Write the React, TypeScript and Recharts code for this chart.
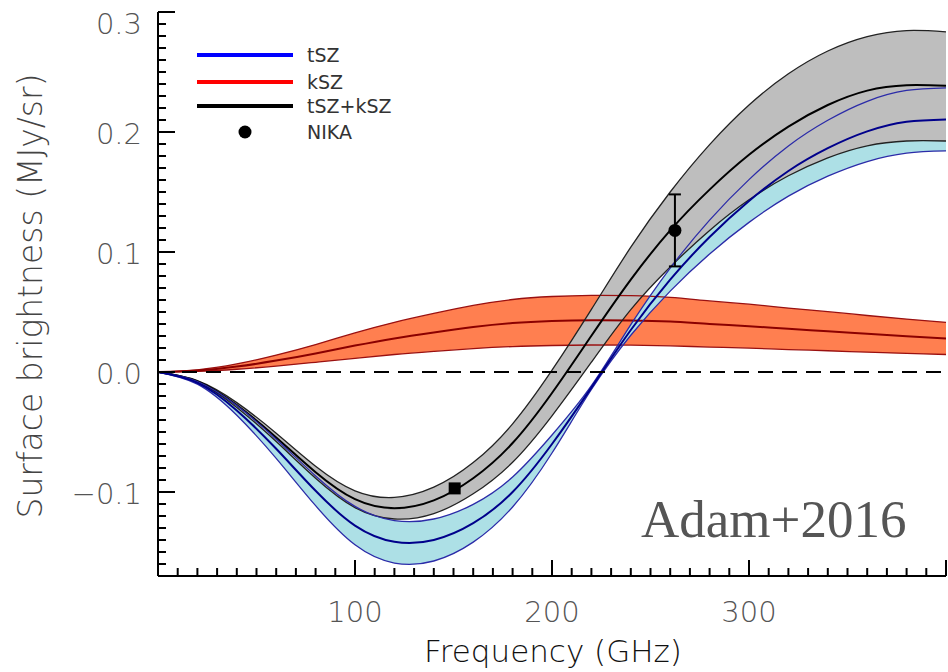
import React from "react";
import {
  ComposedChart, Area, Line, Scatter, XAxis, YAxis, ReferenceLine, ErrorBar,
} from "recharts";

// frequency grid (GHz) and curves
const freq = [0, 20, 40, 60, 80, 100, 120, 140, 160, 180, 200, 220, 240, 260, 280, 300, 320, 340, 360, 380, 400];

const tszMid = [0, -0.009, -0.032, -0.064, -0.099, -0.128, -0.1415, -0.14, -0.126, -0.1, -0.06, -0.013, 0.035, 0.077, 0.1125, 0.1425, 0.1675, 0.1865, 0.2005, 0.2085, 0.2105];
const tszLo = [0, -0.0101, -0.036, -0.072, -0.1114, -0.144, -0.1592, -0.1575, -0.1418, -0.1125, -0.0675, -0.0146, 0.0306, 0.0674, 0.0984, 0.1247, 0.1466, 0.1632, 0.1754, 0.1824, 0.1842];
const tszHi = [0, -0.0079, -0.028, -0.056, -0.0866, -0.112, -0.1238, -0.1225, -0.1103, -0.0875, -0.0525, -0.0114, 0.0394, 0.0866, 0.1266, 0.1603, 0.1884, 0.2098, 0.2256, 0.2346, 0.2368];

const kszMid = [0, 0.0012, 0.0045, 0.0095, 0.0155, 0.022, 0.028, 0.033, 0.0375, 0.0408, 0.0425, 0.0432, 0.043, 0.042, 0.04, 0.0382, 0.036, 0.034, 0.0318, 0.0298, 0.028];
const kszLo = [0, 0.0006, 0.0023, 0.0049, 0.0081, 0.0114, 0.0146, 0.0172, 0.0195, 0.0212, 0.0221, 0.0225, 0.0224, 0.0218, 0.0208, 0.0199, 0.0187, 0.0177, 0.0165, 0.0155, 0.0146];
const kszHi = [0, 0.0018, 0.0067, 0.0141, 0.0229, 0.0326, 0.0414, 0.0488, 0.0555, 0.0604, 0.0629, 0.0639, 0.0636, 0.0622, 0.0592, 0.0565, 0.0533, 0.0503, 0.0471, 0.0441, 0.0414];

const totMid = [0, -0.0078, -0.0275, -0.0545, -0.0835, -0.106, -0.1135, -0.107, -0.0885, -0.0592, -0.0175, 0.0302, 0.077, 0.118, 0.152, 0.181, 0.2045, 0.2225, 0.2345, 0.239, 0.2385];
const totLo = [0, -0.0084, -0.0295, -0.058, -0.0885, -0.113, -0.1225, -0.118, -0.1015, -0.0752, -0.0365, 0.0082, 0.052, 0.0875, 0.118, 0.1435, 0.1635, 0.1785, 0.1885, 0.1925, 0.1925];
const totHi = [0, -0.0072, -0.0255, -0.051, -0.0785, -0.099, -0.1045, -0.096, -0.0755, -0.0432, 0.0015, 0.0522, 0.104, 0.15, 0.1895, 0.2225, 0.2485, 0.2675, 0.2795, 0.2845, 0.2835];

// NIKA measurements
const nikaSquare = [{ nu: 150.6, y: -0.097 }];
const nikaDot = [{ nu: 262.4, y: 0.118, err: 0.03 }];

const xLabels = [100, 200, 300];
const yLabels = [-0.1, 0, 0.1, 0.2, 0.3];

const data = freq.map((nu, i) => ({
  nu,
  tszMid: tszMid[i], tszLo: tszLo[i], tszHi: tszHi[i], tszBand: [tszLo[i], tszHi[i]],
  kszMid: kszMid[i], kszLo: kszLo[i], kszHi: kszHi[i], kszBand: [kszLo[i], kszHi[i]],
  totMid: totMid[i], totLo: totLo[i], totHi: totHi[i], totBand: [totLo[i], totHi[i]],
}));

const xTicks = Array.from({ length: 41 }, (_, i) => i * 10);
const yTicks = Array.from({ length: 48 }, (_, i) => Math.round((-0.17 + i * 0.01) * 100) / 100);

const isMajorY = (v: number) => Math.abs(Math.round(v * 10) - v * 10) < 1e-6;

const LABEL_FONT = "'DejaVu Sans', sans-serif";
const tickText = { fontSize: 29, fill: "#555", fontFamily: LABEL_FONT, fontWeight: 200 };

function BottomTick({ x = 0, y = 0, payload }: any) {
  const v = payload?.value;
  const major = v % 100 === 0;
  return (
    <g>
      <line x1={x} x2={x} y1={y} y2={y - (major ? 16 : 8)} stroke="#000" strokeWidth={2} />
      {xLabels.includes(v) && (
        <text x={x} y={y + 36} textAnchor="middle" dominantBaseline="central" style={tickText}>{v}</text>
      )}
    </g>
  );
}

function TopTick({ x = 0, y = 0, payload }: any) {
  const major = payload?.value % 100 === 0;
  return <line x1={x} x2={x} y1={y} y2={y + (major ? 16 : 8)} stroke="#000" strokeWidth={2} />;
}

function LeftTick({ x = 0, y = 0, payload }: any) {
  const v = payload?.value;
  const major = isMajorY(v);
  const show = yLabels.some((l) => Math.abs(l - v) < 1e-6);
  const txt = v < 0 ? "\u2212" + Math.abs(v).toFixed(1) : v.toFixed(1);
  return (
    <g>
      <line x1={x} x2={x + (major ? 17 : 8)} y1={y} y2={y} stroke="#000" strokeWidth={2} />
      {show && (
        <text x={x - 16} y={y + (Math.abs(v - 0.3) < 1e-6 ? 12 : 2)} textAnchor="end" dominantBaseline="central"
          style={tickText}>{txt}</text>
      )}
    </g>
  );
}

function RightTick({ x = 0, y = 0, payload }: any) {
  const major = isMajorY(payload?.value);
  return <line x1={x} x2={x - (major ? 17 : 8)} y1={y} y2={y} stroke="#000" strokeWidth={2} />;
}

const SquareMark = (p: any) => <rect x={p.cx - 6} y={p.cy - 6} width={12} height={12} fill="#000" />;
const DotMark = (p: any) => <circle cx={p.cx} cy={p.cy} r={6.5} fill="#000" />;

const axisLine = { stroke: "#000", strokeWidth: 2 };
const CURVE = "natural" as const;

export default function App() {
  return (
    <div style={{ position: "absolute", left: 0, top: 0, width: 948, height: 672, background: "#fff" }}>
      <ComposedChart width={948} height={672} data={data} margin={{ top: 12, right: 2, bottom: 0, left: 0 }}>
        <XAxis dataKey="nu" type="number" domain={[0, 400]} ticks={xTicks} interval={0} height={96}
          tickSize={0} tickMargin={0} tickLine={false} axisLine={axisLine} tick={(p: any) => <BottomTick {...p} />} allowDataOverflow />
        <XAxis xAxisId="top" orientation="top" type="number" domain={[0, 400]} ticks={xTicks} interval={0} height={0}
          tickSize={0} tickMargin={0} tickLine={false} axisLine={axisLine} tick={(p: any) => <TopTick {...p} />} allowDataOverflow />
        <YAxis type="number" domain={[-0.17, 0.3]} ticks={yTicks} interval={0} width={158}
          tickSize={0} tickMargin={0} tickLine={false} axisLine={axisLine} tick={(p: any) => <LeftTick {...p} />} allowDataOverflow />
        <YAxis yAxisId="right" orientation="right" type="number" domain={[-0.17, 0.3]} ticks={yTicks} interval={0} width={0}
          tickSize={0} tickMargin={0} tickLine={false} axisLine={axisLine} tick={(p: any) => <RightTick {...p} />} allowDataOverflow />

        <Area dataKey="kszBand" type={CURVE} fill="#ff7f50" fillOpacity={1} stroke="none" isAnimationActive={false} />
        <Area dataKey="tszBand" type={CURVE} fill="#ade0e6" fillOpacity={1} stroke="none" isAnimationActive={false} />
        <Area dataKey="totBand" type={CURVE} fill="#bebebe" fillOpacity={1} stroke="none" isAnimationActive={false} />

        <Line dataKey="kszLo" type={CURVE} stroke="#9a1010" strokeWidth={1.3} dot={false} isAnimationActive={false} />
        <Line dataKey="kszHi" type={CURVE} stroke="#9a1010" strokeWidth={1.3} dot={false} isAnimationActive={false} />
        <Line dataKey="kszMid" type={CURVE} stroke="#8b0000" strokeWidth={2} dot={false} isAnimationActive={false} />

        <Line dataKey="totLo" type={CURVE} stroke="#222" strokeWidth={1.3} dot={false} isAnimationActive={false} />
        <Line dataKey="totHi" type={CURVE} stroke="#222" strokeWidth={1.3} dot={false} isAnimationActive={false} />
        <Line dataKey="totMid" type={CURVE} stroke="#000" strokeWidth={2} dot={false} isAnimationActive={false} />

        <Line dataKey="tszLo" type={CURVE} stroke="#2b2ba8" strokeWidth={1.3} dot={false} isAnimationActive={false} />
        <Line dataKey="tszHi" type={CURVE} stroke="#2b2ba8" strokeWidth={1.3} dot={false} isAnimationActive={false} />
        <Line dataKey="tszMid" type={CURVE} stroke="#00008b" strokeWidth={2} dot={false} isAnimationActive={false} />

        <ReferenceLine y={0} stroke="#000" strokeWidth={2} strokeDasharray="15 9" />

        <Scatter data={nikaSquare} dataKey="y" shape={SquareMark} isAnimationActive={false} />
        <Scatter data={nikaDot} dataKey="y" shape={DotMark} isAnimationActive={false}>
          <ErrorBar dataKey="err" direction="y" width={6} stroke="#000" strokeWidth={2} />
        </Scatter>
      </ComposedChart>

      <svg width={948} height={672} style={{ position: "absolute", left: 0, top: 0, pointerEvents: "none" }}>
        <text transform="translate(42,296) rotate(-90)" textAnchor="middle"
          style={{ fontSize: 33, fill: "#444", fontFamily: LABEL_FONT, fontWeight: 200 }}>Surface brightness (MJy/sr)</text>
        <text x={553} y={662} textAnchor="middle"
          style={{ fontSize: 31, fill: "#111", fontFamily: LABEL_FONT, fontWeight: 200 }}>Frequency (GHz)</text>

        <line x1={197} x2={293} y1={55} y2={55} stroke="#0000ff" strokeWidth={4} />
        <line x1={197} x2={293} y1={82} y2={82} stroke="#ff0000" strokeWidth={4} />
        <line x1={197} x2={293} y1={106} y2={106} stroke="#000" strokeWidth={4} />
        <circle cx={245} cy={132} r={6.5} fill="#000" />
        {["tSZ", "kSZ", "tSZ+kSZ", "NIKA"].map((t, i) => (
          <text key={t} x={307} y={[55, 82, 106, 132][i]} dominantBaseline="central"
            style={{ fontSize: 19, fill: "#333", fontFamily: LABEL_FONT }}>{t}</text>
        ))}

        <text x={641} y={537} style={{ fontSize: 53, fill: "#555", fontFamily: "'Liberation Serif', serif" }}>Adam+2016</text>
      </svg>
    </div>
  );
}
